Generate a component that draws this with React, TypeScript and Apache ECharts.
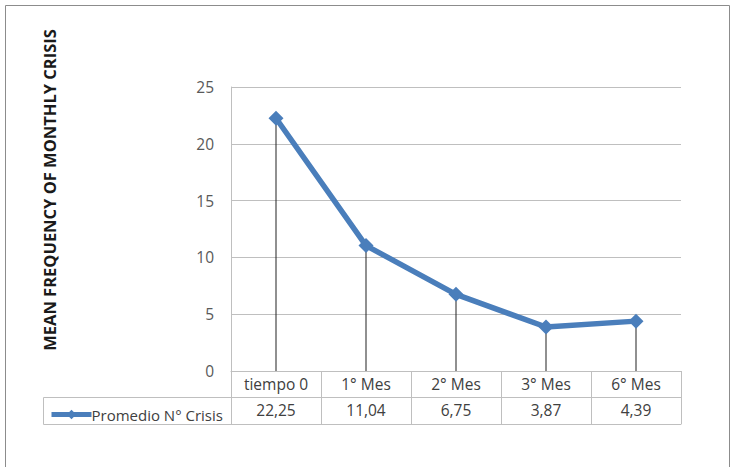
import React, { useEffect, useRef } from "react";
import * as echarts from "echarts";

const categories = ["tiempo 0", "1° Mes", "2° Mes", "3° Mes", "6° Mes"];
const values = [22.25, 11.04, 6.75, 3.87, 4.39];
const seriesName = "Promedio N° Crisis";
const yTitle = "MEAN FREQUENCY OF MONTHLY CRISIS";
const yTicks = { min: 0, max: 25, interval: 5 };

const fmt = (v: number) => v.toFixed(2).replace(".", ",");

export default function App() {
  const ref = useRef<HTMLDivElement>(null);
  useEffect(() => {
    if (!ref.current) return;
    const chart = echarts.init(ref.current, undefined, { renderer: "svg" });
    const gray = "#bfbfbf";
    const textColor = "#404040";
    const font = "Open Sans";
    chart.setOption({
      animation: false,
      backgroundColor: "#ffffff",
      grid: { left: 231, right: 54, top: 87, bottom: 96 },
      legend: {
        left: 44,
        top: 402,
        itemWidth: 40,
        itemHeight: 12,
        itemGap: 2,
        lineStyle: { width: 5 },
        textStyle: { fontSize: 15, color: textColor, fontFamily: font, padding: [0, 0, 0, -5] },
        data: [seriesName],
      },
      xAxis: [
        {
          type: "category",
          data: categories,
          boundaryGap: true,
          axisLine: { show: true, lineStyle: { color: gray, width: 1 } },
          axisTick: { show: true, length: 53, lineStyle: { color: gray } },
          axisLabel: { margin: 5, fontSize: 15.5, color: textColor, fontFamily: font },
        },
        {
          type: "category",
          data: values.map(fmt),
          position: "bottom",
          offset: 26,
          boundaryGap: true,
          axisLine: { show: true, lineStyle: { color: gray, width: 1 } },
          axisTick: { show: false },
          axisLabel: { margin: 5, fontSize: 15.5, color: textColor, fontFamily: font },
        },
        {
          type: "category",
          data: categories,
          position: "bottom",
          offset: 53,
          boundaryGap: true,
          axisLine: { show: true, lineStyle: { color: gray, width: 1 } },
          axisTick: { show: false },
          axisLabel: { show: false },
        },
      ],
      yAxis: {
        type: "value",
        min: yTicks.min,
        max: yTicks.max,
        interval: yTicks.interval,
        axisLine: { show: true, lineStyle: { color: gray } },
        axisTick: { show: false },
        splitLine: { show: true, lineStyle: { color: gray, width: 1 } },
        axisLabel: { margin: 17, fontSize: 15.5, color: "#595959", fontFamily: font },
      },
      series: [
        {
          type: "bar",
          name: "drop",
          data: values,
          barWidth: 1,
          itemStyle: { color: "#222222" },
          silent: true,
          z: 1,
        },
        {
          type: "line",
          name: seriesName,
          data: values,
          symbol: "diamond",
          symbolSize: 15,
          lineStyle: { color: "#4A7EBB", width: 5.5 },
          itemStyle: { color: "#4A7EBB" },
          z: 3,
        },
      ],
      graphic: [
        {
          type: "rect",
          shape: { x: 5.5, y: 5.5, width: 724, height: 480 },
          style: { fill: "none", stroke: "#8c8c8c", lineWidth: 1 },
          silent: true,
        },
        {
          type: "line",
          shape: { x1: 43.5, y1: 397.5, x2: 231, y2: 397.5 },
          style: { stroke: gray, lineWidth: 1 },
        },
        {
          type: "line",
          shape: { x1: 43.5, y1: 424.5, x2: 231, y2: 424.5 },
          style: { stroke: gray, lineWidth: 1 },
        },
        {
          type: "line",
          shape: { x1: 43.5, y1: 397.5, x2: 43.5, y2: 424.5 },
          style: { stroke: gray, lineWidth: 1 },
        },
        {
          type: "text",
          x: 49,
          y: 190,
          rotation: Math.PI / 2,
          style: {
            text: yTitle,
            fontSize: 16.5,
            fontWeight: "bold",
            fontFamily: font,
            fill: "#1a1a1a",
            align: "center",
            verticalAlign: "middle",
          },
        },
      ],
    });
    return () => chart.dispose();
  }, []);
  return (
    <div
      ref={ref}
      style={{ position: "fixed", left: 0, top: 0, width: 735, height: 467 }}
    />
  );
}
